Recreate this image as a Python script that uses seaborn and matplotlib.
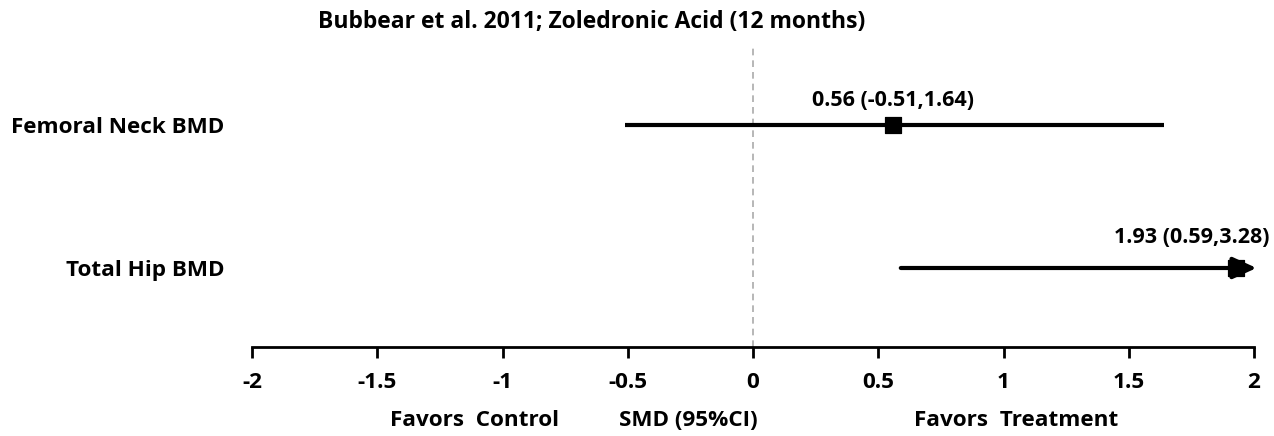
import matplotlib
matplotlib.use("Agg")
import matplotlib.pyplot as plt
import matplotlib.transforms as mtransforms
import seaborn as sns
import pandas as pd

# ---- data ----
outcomes = ["Femoral Neck BMD", "Total Hip BMD"]
smd = [0.56, 1.93]
ci_low = [-0.51, 0.59]
ci_high = [1.64, 3.28]
value_labels = ["0.56 (-0.51,1.64)", "1.93 (0.59,3.28)"]
xticks = [-2, -1.5, -1, -0.5, 0, 0.5, 1, 1.5, 2]
xtick_labels = ["-2", "-1.5", "-1", "-0.5", "0", "0.5", "1", "1.5", "2"]
title = "Bubbear et al. 2011; Zoledronic Acid (12 months)"
bottom_labels = ["Favors  Control", "SMD (95%CI)", "Favors  Treatment"]
bottom_label_x = [-1.11, -0.26, 1.05]

sns.set_theme(style="white")
plt.rcParams['font.family'] = ['Open Sans', 'DejaVu Sans']
plt.rcParams['font.weight'] = 'bold'
plt.rcParams['text.color'] = 'black'
plt.rcParams['xtick.color'] = 'black'
plt.rcParams['ytick.color'] = 'black'

FS = 16.2
xmin, xmax = -2, 2
ypos = [1, 0]
df = pd.DataFrame({"outcome": outcomes, "smd": smd, "lo": ci_low, "hi": ci_high, "y": ypos})

fig = plt.figure(figsize=(12.74, 4.36), dpi=100)
ax = fig.add_axes([252/1274, (436-347)/436, (1254-252)/1274, (347-48)/436])

ax.axvline(0, color="#aaaaaa", ls=(0, (4, 3)), lw=1.2, zorder=1)

for _, r in df.iterrows():
    lo = max(r.lo, xmin)
    hi = r.hi
    if hi > xmax:
        ax.annotate("", xy=(xmax + 0.01, r.y), xytext=(lo, r.y),
                    arrowprops=dict(arrowstyle="-|>,head_length=1.2,head_width=0.55",
                                    color="black", lw=3, shrinkA=0, shrinkB=0),
                    annotation_clip=False, zorder=2)
    else:
        ax.hlines(r.y, lo, hi, color="black", lw=3, zorder=2)

sns.scatterplot(data=df, x="smd", y="y", marker="s", s=120, color="black",
                edgecolor="black", ax=ax, zorder=3, legend=False)

ax.text(df.smd[0], df.y[0] + 0.10, value_labels[0], ha="center", va="bottom",
        fontsize=15.5, fontweight="bold", color="black")
ax.text(2.06, df.y[1] + 0.14, value_labels[1], ha="right", va="bottom",
        fontsize=15.5, fontweight="bold", clip_on=False, color="black")

ax.set_xlim(xmin, xmax)
ax.set_ylim(-79/143, 1 + 77/143)
ax.set_xticks(xticks)
ax.set_xticklabels(xtick_labels, fontsize=FS, fontweight="bold", color="black")
ax.set_yticks(ypos)
ax.set_yticklabels(outcomes, fontsize=FS, fontweight="bold", color="black")
ax.tick_params(axis="y", length=0, pad=20)
ax.tick_params(axis="x", direction="out", length=8, width=2, color="black", pad=10,
               bottom=True)
for s in ["top", "right", "left"]:
    ax.spines[s].set_visible(False)
ax.spines["bottom"].set_linewidth(2)
ax.spines["bottom"].set_color("black")
ax.set_xlabel("")
ax.set_ylabel("")

trans = mtransforms.blended_transform_factory(ax.transData, fig.transFigure)
for lab, xv in zip(bottom_labels, bottom_label_x):
    ax.text(xv, (436-420)/436, lab, transform=trans, ha="center", va="center",
            fontsize=FS, fontweight="bold", color="black")

fig.text(592/1274, (436-22)/436, title, ha="center", va="center",
         fontsize=16.5, fontweight="bold", color="black")

fig.savefig("out.png", dpi=100, facecolor="white")
